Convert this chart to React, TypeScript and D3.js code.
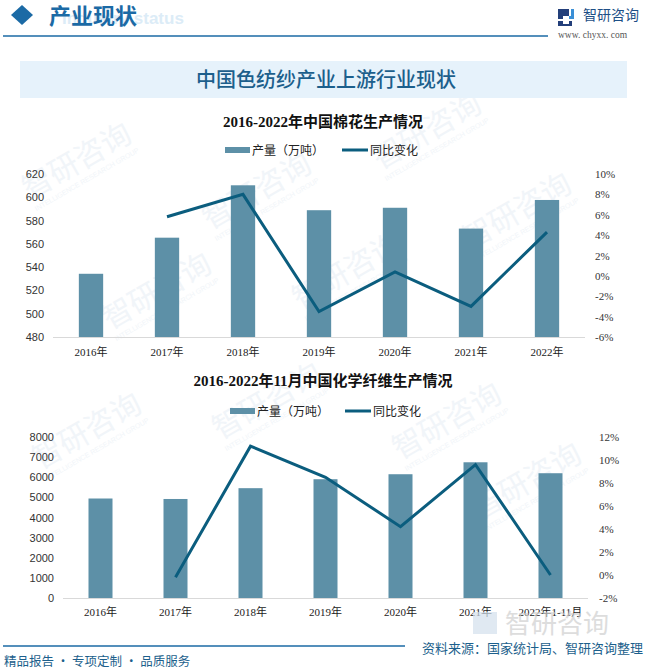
import React, { useEffect, useRef } from "react";
import * as d3 from "d3";

// chart 1: cotton
const cottonYears = ["2016年", "2017年", "2018年", "2019年", "2020年", "2021年", "2022年"];
const cottonOutput = [534.3, 565.3, 610.3, 588.9, 591.0, 573.1, 597.7];
const cottonYoY = [null, 5.8, 8.0, -3.5, 0.4, -3.0, 4.3];
const cottonLeftTicks = [480, 500, 520, 540, 560, 580, 600, 620];
const cottonRightTicks = [-6, -4, -2, 0, 2, 4, 6, 8, 10];

// chart 2: chemical fibre
const fiberYears = ["2016年", "2017年", "2018年", "2019年", "2020年", "2021年", "2022年1-11月"];
const fiberOutput = [4944, 4920, 5457, 5902, 6150, 6744, 6200];
const fiberYoY = [null, -0.2, 11.2, 8.5, 4.2, 9.6, 0.0];
const fiberLeftTicks = [0, 1000, 2000, 3000, 4000, 5000, 6000, 7000, 8000];
const fiberRightTicks = [-2, 0, 2, 4, 6, 8, 10, 12];

const BAR = "#5d90a7";
const LINE = "#0b5d7e";
const BLUE = "#1c5f8c";
const SERIF = "'Liberation Serif', 'DejaVu Serif', 'Noto Sans CJK SC', serif";
const SANS = "'Liberation Sans', Arial, 'Noto Sans CJK SC', sans-serif";
const CJK = "'Noto Sans CJK SC', sans-serif";

const App = () => {
  const ref = useRef<SVGSVGElement>(null);

  useEffect(() => {
    const svg = d3.select(ref.current);
    svg.selectAll("*").remove();

    // faint watermarks
    const wm = svg.append("g").attr("fill", "#f1f5f9");
    const spots = [
      [30, 200], [210, 230], [380, 170], [470, 250], [40, 470], [220, 440],
      [400, 460], [480, 520], [300, 310], [110, 330],
    ];
    spots.forEach(([x, y]) => {
      const g = wm.append("g").attr("transform", `translate(${x},${y}) rotate(-30)`);
      g.append("text").attr("font-family", CJK).attr("font-size", 30).text("智研咨询");
      g.append("text").attr("y", 13).attr("font-family", SANS).attr("font-size", 7)
        .text("INTELLIGENCE RESEARCH GROUP");
    });

    // header
    svg.append("path").attr("d", "M22,5 L33,15 L22,25 L11,15 Z").attr("fill", "#1b6aa5");
    svg.append("text").attr("x", 62).attr("y", 24).attr("font-family", SANS)
      .attr("font-weight", "bold").attr("font-size", 17).attr("fill", "#dcecf7")
      .text("Industry status");
    svg.append("text").attr("x", 49).attr("y", 24).attr("font-family", CJK)
      .attr("font-weight", "bold").attr("font-size", 22).attr("fill", "#1b6aa5")
      .text("产业现状");
    svg.append("line").attr("x1", 3).attr("x2", 548).attr("y1", 36).attr("y2", 36)
      .attr("stroke", "#1b6aa5").attr("stroke-width", 1.5);

    // logo
    const logo = svg.append("g").attr("transform", "translate(558,9)");
    logo.append("path").attr("d", "M0,0 h11 v7 h-6 v3 h-5 z M0,12 h5 v3 h6 v-3 h3 v5 h-14 z").attr("fill", "#233f7a");
    logo.append("path").attr("d", "M13,0 h3 v10 h-5 v-3 h2 z").attr("fill", "#3a8fd6");
    svg.append("text").attr("x", 583).attr("y", 20).attr("font-family", CJK)
      .attr("font-size", 14).attr("fill", "#1d4f86").text("智研咨询");
    svg.append("text").attr("x", 558).attr("y", 38).attr("font-family", SERIF)
      .attr("font-size", 9.5).attr("fill", "#555").text("www. chyxx. com");

    // banner
    svg.append("rect").attr("x", 20).attr("y", 61).attr("width", 607).attr("height", 37)
      .attr("fill", "#e6f2fb");
    svg.append("text").attr("x", 326).attr("y", 87).attr("text-anchor", "middle")
      .attr("font-family", CJK).attr("font-weight", 500).attr("font-size", 20)
      .attr("fill", BLUE).text("中国色纺纱产业上游行业现状");

    const drawChart = (opts) => {
      const { title, titleY, years, bars, yoy, leftTicks, rightTicks, x0, x1, yTop, yBot,
        leftDomain, rightDomain, leftX, rightX, labelY, legendY, legendX, lineLegendX } = opts;

      svg.append("text").attr("x", 323).attr("y", titleY).attr("text-anchor", "middle")
        .attr("font-family", SERIF).attr("font-weight", "bold").attr("font-size", 15)
        .attr("fill", "#111").text(title);

      // legend
      svg.append("rect").attr("x", legendX).attr("y", legendY - 3).attr("width", 25).attr("height", 6)
        .attr("fill", BAR);
      svg.append("text").attr("x", legendX + 27).attr("y", legendY + 4.5).attr("font-family", CJK)
        .attr("font-size", 12).attr("fill", "#222").text("产量（万吨）");
      svg.append("line").attr("x1", lineLegendX).attr("x2", lineLegendX + 26)
        .attr("y1", legendY).attr("y2", legendY).attr("stroke", LINE).attr("stroke-width", 3);
      svg.append("text").attr("x", lineLegendX + 28).attr("y", legendY + 4.5).attr("font-family", CJK)
        .attr("font-size", 12).attr("fill", "#222").text("同比变化");

      const x = d3.scaleBand().domain(years).range([x0, x1]).padding(0);
      const yL = d3.scaleLinear().domain(leftDomain).range([yBot, yTop]);
      const yR = d3.scaleLinear().domain(rightDomain).range([yBot, yTop]);
      const bw = x.step() * 0.32;
      const cx = (d) => x(d) + x.bandwidth() / 2;

      svg.append("g").selectAll("rect").data(years).enter().append("rect")
        .attr("x", (d) => cx(d) - bw / 2)
        .attr("y", (d, i) => yL(bars[i]))
        .attr("width", bw)
        .attr("height", (d, i) => yBot - yL(bars[i]))
        .attr("fill", BAR);

      svg.append("line").attr("x1", x0).attr("x2", x1).attr("y1", yBot + 0.5).attr("y2", yBot + 0.5)
        .attr("stroke", "#d9d9d9");

      const pts = years.map((d, i) => [cx(d), yoy[i]]).filter((p) => p[1] !== null);
      svg.append("path")
        .attr("d", d3.line().x((p) => p[0]).y((p) => yR(p[1]))(pts))
        .attr("fill", "none").attr("stroke", LINE).attr("stroke-width", 3)
        .attr("stroke-linejoin", "miter");

      svg.append("g").selectAll("text").data(leftTicks).enter().append("text")
        .attr("x", leftX).attr("y", (d) => yL(d) + 4).attr("text-anchor", "end")
        .attr("font-family", SANS).attr("font-size", 11).attr("fill", "#333")
        .text((d) => d);

      svg.append("g").selectAll("text").data(rightTicks).enter().append("text")
        .attr("x", rightX).attr("y", (d) => yR(d) + 4)
        .attr("font-family", SERIF).attr("font-size", 11).attr("fill", "#333")
        .text((d) => (d < 0 ? "-" : "") + Math.abs(d) + "%");

      svg.append("g").selectAll("text").data(years).enter().append("text")
        .attr("x", (d) => cx(d)).attr("y", labelY).attr("text-anchor", "middle")
        .attr("font-family", SERIF).attr("font-size", 11).attr("fill", "#222")
        .text((d) => d);
    };

    drawChart({
      title: "2016-2022年中国棉花生产情况", titleY: 127,
      years: cottonYears, bars: cottonOutput, yoy: cottonYoY,
      leftTicks: cottonLeftTicks, rightTicks: cottonRightTicks,
      x0: 53, x1: 585, yTop: 174, yBot: 337,
      leftDomain: [480, 620], rightDomain: [-6, 10],
      leftX: 44, rightX: 595, labelY: 356,
      legendY: 150, legendX: 225, lineLegendX: 342,
    });

    drawChart({
      title: "2016-2022年11月中国化学纤维生产情况", titleY: 386,
      years: fiberYears, bars: fiberOutput, yoy: fiberYoY,
      leftTicks: fiberLeftTicks, rightTicks: fiberRightTicks,
      x0: 63, x1: 588, yTop: 437, yBot: 598,
      leftDomain: [0, 8000], rightDomain: [-2, 12],
      leftX: 54, rightX: 599, labelY: 616,
      legendY: 411, legendX: 230, lineLegendX: 345,
    });

    // bottom-right watermark logo
    svg.append("rect").attr("x", 473).attr("y", 612).attr("width", 24).attr("height", 22)
      .attr("fill", "#d3e0ec").attr("opacity", 0.7);
    svg.append("text").attr("x", 505).attr("y", 633).attr("font-family", CJK)
      .attr("font-size", 26).attr("fill", "#cfcfcf").attr("opacity", 0.7).text("智研咨询");

    // footer
    svg.append("line").attr("x1", 3).attr("x2", 405).attr("y1", 646).attr("y2", 646)
      .attr("stroke", "#1b6aa5").attr("stroke-width", 1.5);
    svg.append("text").attr("x", 422).attr("y", 653).attr("font-family", CJK)
      .attr("font-size", 13).attr("fill", BLUE).text("资料来源：国家统计局、智研咨询整理");
    svg.append("text").attr("x", 4).attr("y", 666).attr("font-family", CJK)
      .attr("font-size", 12.5).attr("fill", BLUE).text("精品报告 · 专项定制 · 品质服务");
  }, []);

  return (
    <svg ref={ref} width={653} height={671}
      style={{ position: "absolute", left: 0, top: 0, display: "block", background: "#fff" }} />
  );
};

export default App;
